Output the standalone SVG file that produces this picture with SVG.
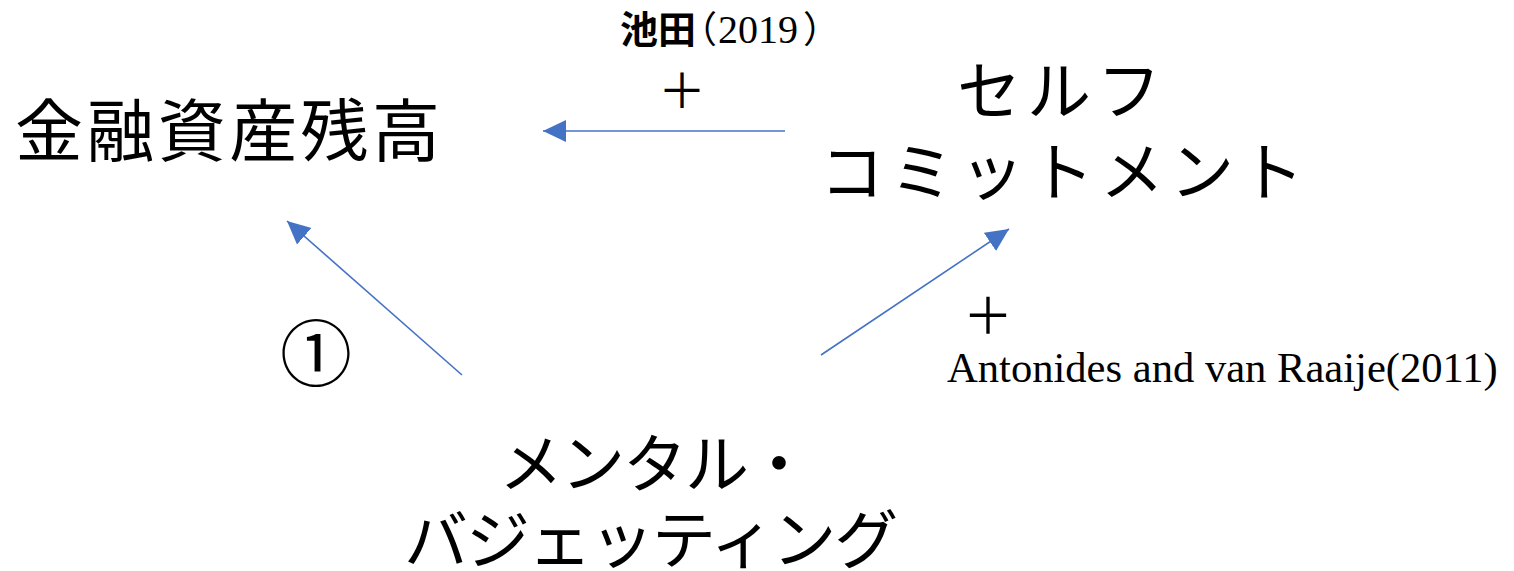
<svg xmlns="http://www.w3.org/2000/svg" width="1514" height="571" viewBox="0 0 1514 571">
<style>
.jp{font-family:"Noto Sans CJK JP","Noto Sans CJK SC",sans-serif;fill:#000}
.serif{font-family:"Liberation Serif","Noto Sans CJK JP",serif;fill:#000}
.conn{stroke:#4472C4;stroke-width:1.6;fill:none}
</style>
<defs>
<marker id="ah" markerUnits="userSpaceOnUse" markerWidth="24" markerHeight="24" viewBox="0 0 24 24" refX="23" refY="12" orient="auto">
<path d="M0,1 L23,12 L0,23 z" fill="#4472C4"/>
</marker>
</defs>
<rect width="1514" height="571" fill="#fff"/>
<g id="connectors">
<line class="conn" x1="785" y1="131" x2="543" y2="131" marker-end="url(#ah)"/>
<line class="conn" x1="462" y1="375" x2="287" y2="221" marker-end="url(#ah)"/>
<line class="conn" x1="821" y1="355" x2="1009" y2="229" marker-end="url(#ah)"/>
</g>
<g id="node-kinyu">
<text class="jp" x="15" y="156" font-size="68" letter-spacing="3.4">金融資産残高</text>
</g>
<g id="node-self">
<text class="jp" x="957" y="114" font-size="64" letter-spacing="6">セルフ</text>
<text class="jp" x="820" y="195" font-size="64" letter-spacing="6">コミットメント</text>
</g>
<g id="node-mental">
<text class="jp" x="499" y="487" font-size="64" letter-spacing="-2">メンタル・</text>
<text class="jp" x="404" y="563" font-size="64" letter-spacing="-2">バジェッティング</text>
</g>
<g id="label-ikeda">
<text class="serif" y="43" font-size="40"><tspan x="620" class="jp" font-weight="bold" font-size="38">池田</tspan><tspan x="680" class="jp" font-size="37">（</tspan><tspan x="718">2019</tspan><tspan x="803" class="jp" font-size="37">）</tspan></text>
<text class="jp" x="682" y="108" font-size="48" text-anchor="middle">＋</text>
</g>
<g id="label-antonides">
<text class="jp" x="988" y="334" font-size="50" text-anchor="middle">＋</text>
<text class="serif" x="947" y="382" font-size="42.6">Antonides and van Raaije(2011)</text>
</g>
<g id="label-1">
<text class="jp" x="316" y="380" font-size="72" text-anchor="middle">①</text>
</g>
</svg>
